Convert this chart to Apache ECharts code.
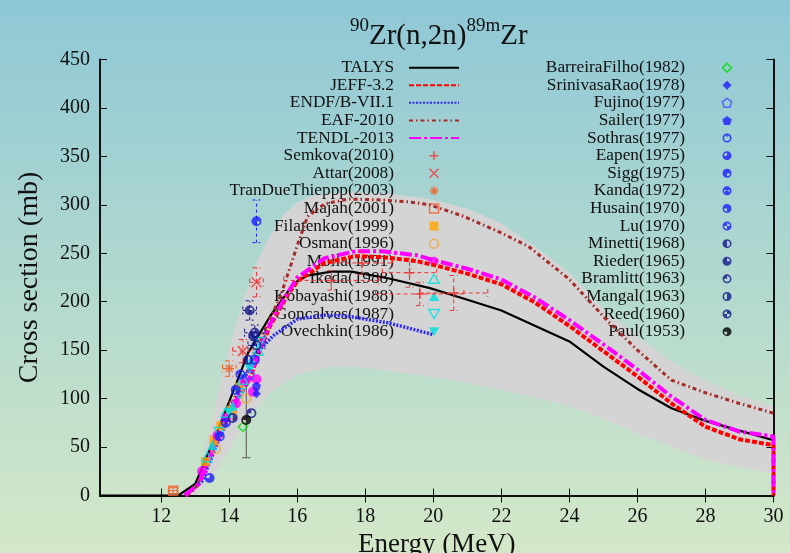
<!DOCTYPE html>
<html><head><meta charset="utf-8">
<script src="https://cdn.jsdelivr.net/npm/echarts@6/dist/echarts.min.js"></script>
<style>html,body{margin:0;padding:0;}#c{width:790px;height:553px;}</style>
</head><body><div id="c"></div><script>
const FONT = "'Liberation Serif', 'DejaVu Serif', serif";

// ---- axis ticks ----
const xTicks = [12, 14, 16, 18, 20, 22, 24, 26, 28, 30];

// ---- evaluated curves ----
const talysE = [10.2, 12.5, 13.0, 13.5, 14.1, 14.55, 15.2, 15.9, 16.3, 17.0, 17.6, 18.7, 19.9, 21.0, 22.0, 23.0, 24.0, 25.0, 26.0, 27.0, 28.0, 29.0, 30.0];
const talysV = [0, 0, 12, 53, 106, 147, 185, 219, 227, 231, 231, 224, 214, 202, 191, 175, 159, 133, 110, 90, 77, 67, 57];

const jeffE = [12.7, 13.1, 13.6, 14.1, 14.6, 14.9, 15.2, 15.7, 16.0, 16.8, 17.7, 18.5, 19.5, 20.0, 21.0, 22.0, 23.0, 24.0, 25.0, 26.0, 27.0, 28.0, 29.0, 30.0, 30.0];
const jeffV = [0, 12, 54, 92, 120, 150, 175, 206, 221, 240, 247, 246, 242, 238, 229, 218, 199, 175, 149, 123, 95, 71, 58, 52, 0];

const endfE = [12.7, 13.2, 13.6, 14.1, 14.5, 14.8, 15.3, 16.0, 16.8, 17.5, 18.7, 20.0];
const endfV = [0, 15, 50, 90, 125, 147, 165, 182, 186, 185, 178, 166];

const eafE = [12.75, 13.0, 13.5, 14.0, 14.5, 14.8, 15.0, 15.5, 16.0, 16.3, 16.8, 17.5, 18.5, 19.3, 19.9, 20.9, 22.0, 22.8, 24.0, 25.1, 26.0, 27.0, 28.0, 29.0, 30.0];
const eafV = [0, 7, 45, 90, 125, 147, 168, 205, 258, 288, 301, 306, 305, 303, 300, 288, 271, 257, 223, 181, 150, 119, 106, 95, 85];

const tendlE = [12.7, 13.1, 13.6, 14.1, 14.6, 14.9, 15.2, 15.7, 16.0, 16.8, 17.7, 18.5, 19.5, 20.0, 21.0, 22.0, 23.0, 24.0, 25.0, 26.0, 27.0, 28.0, 29.0, 30.0, 30.0];
const tendlV = [0, 12, 54, 92, 121, 152, 177, 208, 225, 245, 252, 252, 248, 243, 234, 223, 204, 181, 156, 130, 102, 78, 66, 61, 0];

// ---- uncertainty band ----
const bandUpE = [12.9, 13.2, 13.5, 13.8, 14.1, 14.5, 14.8, 15.2, 15.6, 16.0, 16.5, 17.5, 18.5, 19.5, 20.0, 21.0, 22.0, 22.8, 24.0, 25.0, 26.0, 27.0, 28.0, 29.0, 30.0];
const bandUpV = [0, 35, 80, 125, 165, 210, 240, 268, 290, 303, 310, 313, 312, 308, 305, 296, 281, 262, 230, 193, 164, 138, 119, 103, 92];
const bandLowE = [13.0, 13.5, 14.0, 14.6, 15.2, 16.0, 17.0, 18.0, 19.0, 20.0, 21.0, 22.0, 23.0, 24.0, 25.0, 26.0, 27.0, 28.0, 29.0, 30.0];
const bandLowV = [0, 20, 48, 83, 106, 125, 133, 132, 127, 122, 116, 109, 101, 92, 79, 64, 50, 37, 29, 23];

// ---- experimental data: [E, sigma, dE, dSigma] ----
const semkova = [[17.0, 222, 1.4, 10], [17.9, 240, 0.9, 12], [19.3, 230, 0.8, 15], [19.6, 208, 1.3, 12], [20.6, 209, 1.0, 18], [14.1, 92, 0.1, 5]];
const attar = [[14.4, 149, 0.3, 12], [14.8, 220, 0.2, 15]];
const tranDue = [[14.0, 131, 0.2, 8]];
const majah = [[12.35, 5, 0.12, 3]];
const filatenkov = [[13.3, 35], [13.55, 57], [13.75, 72], [14.05, 88], [14.3, 112]];
const osman = [[13.6, 48], [14.1, 83], [14.5, 100]];
const molla = [[13.2, 25], [13.65, 62], [13.9, 80], [14.2, 95], [14.45, 118], [14.7, 107], [14.8, 120]];
const ikeda = [[13.35, 40], [13.9, 86], [14.4, 120], [14.85, 150]];
const kobayashi = [[13.5, 52], [14.1, 93], [14.65, 140]];
const goncalves = [[13.7, 65], [14.3, 105], [14.9, 158]];
const ovechkin = [[14.0, 85], [14.6, 130]];
const barreira = [[14.4, 71]];
const srinivasa = [[14.8, 105]];
const fujino = [[14.6, 125]];
const sailer = [[14.8, 113]];
const sothras = [[14.75, 140]];
const eapen = [[13.42, 18]];
const sigg = [[13.72, 61], [14.8, 283, 0, 22]];
const kanda = [[13.9, 75]];
const husain = [[14.19, 109]];
const lu = [[14.33, 125]];
const minetti = [[14.55, 140]];
const rieder = [[14.6, 191, 0.2, 10], [14.7, 165]];
const bramlitt = [[14.65, 85], [14.8, 155, 0.25, 8]];
const mangal = [[14.1, 80]];
const reed = [[14.75, 168, 0.3, 8]];
const paul = [[14.5, 78, 0, 39]];

// ---- symbols ----
function ringSym(sectors) {
  const P = (r, a) => { const t = a * Math.PI / 180; return (10 + r * Math.cos(t)).toFixed(2) + ',' + (10 + r * Math.sin(t)).toFixed(2); };
  let d = 'M20,10A10,10,0,1,1,0,10A10,10,0,1,1,20,10Z M16.5,10A6.5,6.5,0,1,0,3.5,10A6.5,6.5,0,1,0,16.5,10Z';
  sectors.forEach(([a1, a2]) => {
    const large = (a2 - a1) > 180 ? 1 : 0;
    d += ' M10,10L' + P(6.5, a1) + 'A6.5,6.5,0,' + large + ',1,' + P(6.5, a2) + 'Z';
  });
  return 'path://' + d;
}
const SYM = {
  plus: 'path://M10,0L10,20M0,10L20,10',
  cross: 'path://M0,0L20,20M20,0L0,20',
  star: 'path://M10,0L10,20M0,10L20,10M3,3L17,17M17,3L3,17',
  sq: 'path://M0,0L20,0L20,20L0,20Z',
  circ: 'path://M20,10A10,10,0,1,1,0,10A10,10,0,1,1,20,10Z',
  tri: 'path://M10,0L20,17L0,17Z',
  itri: 'path://M0,0L20,0L10,17Z',
  dia: 'path://M10,0L20,10L10,20L0,10Z',
  pent: 'path://M10,0L19.5,6.9L15.9,18.1L4.1,18.1L0.5,6.9Z'
};
const BLUE = '#1c1cff', NAVY = '#14148c';
const expDefs = [
  {name: 'Semkova(2010)', d: semkova, sym: SYM.plus, c: '#ee3333', hollow: true, size: 10, dash: [4, 3]},
  {name: 'Attar(2008)', d: attar, sym: SYM.cross, c: '#ee3333', hollow: true, size: 10, dash: [4, 3]},
  {name: 'TranDueThieppp(2003)', d: tranDue, sym: SYM.star, c: '#f06020', hollow: true, size: 10, dash: [4, 3]},
  {name: 'Majah(2001)', d: majah, sym: SYM.sq, c: '#f06030', hollow: true, size: 9, dash: null},
  {name: 'Filatenkov(1999)', d: filatenkov, sym: SYM.sq, c: '#ffa500', size: 9},
  {name: 'Osman(1996)', d: osman, sym: SYM.circ, c: '#f0a030', hollow: true, size: 9},
  {name: 'Molla(1991)', d: molla, sym: SYM.circ, c: '#ff00ff', size: 10},
  {name: 'Ikeda(1988)', d: ikeda, sym: SYM.tri, c: '#00e0e0', hollow: true, size: 10},
  {name: 'Kobayashi(1988)', d: kobayashi, sym: SYM.tri, c: '#00e0e0', size: 10},
  {name: 'Goncalves(1987)', d: goncalves, sym: SYM.itri, c: '#00e0e0', hollow: true, size: 10},
  {name: 'Ovechkin(1986)', d: ovechkin, sym: SYM.itri, c: '#00e0e0', size: 10},
  {name: 'BarreiraFilho(1982)', d: barreira, sym: SYM.dia, c: '#00dd00', hollow: true, size: 9},
  {name: 'SrinivasaRao(1978)', d: srinivasa, sym: SYM.dia, c: BLUE, size: 9},
  {name: 'Fujino(1977)', d: fujino, sym: SYM.pent, c: '#4a4aff', hollow: true, size: 9},
  {name: 'Sailer(1977)', d: sailer, sym: SYM.pent, c: BLUE, size: 9},
  {name: 'Sothras(1977)', d: sothras, sym: ringSym([[255, 285]]), c: BLUE, size: 10},
  {name: 'Eapen(1975)', d: eapen, sym: ringSym([[270, 540]]), c: BLUE, size: 10},
  {name: 'Sigg(1975)', d: sigg, sym: ringSym([[90, 360]]), c: BLUE, size: 10, dash: [3, 3]},
  {name: 'Kanda(1972)', d: kanda, sym: ringSym([[200, 340], [20, 160]]), c: BLUE, size: 10},
  {name: 'Husain(1970)', d: husain, sym: ringSym([[180, 450]]), c: BLUE, size: 10},
  {name: 'Lu(1970)', d: lu, sym: ringSym([[0, 90], [180, 270]]), c: BLUE, size: 10},
  {name: 'Minetti(1968)', d: minetti, sym: ringSym([[90, 270]]), c: NAVY, size: 10},
  {name: 'Rieder(1965)', d: rieder, sym: ringSym([[0, 270]]), c: NAVY, size: 10, dash: [3, 3]},
  {name: 'Bramlitt(1963)', d: bramlitt, sym: ringSym([[180, 270]]), c: NAVY, size: 10, dash: [3, 3]},
  {name: 'Mangal(1963)', d: mangal, sym: ringSym([[-90, 90]]), c: NAVY, size: 10},
  {name: 'Reed(1960)', d: reed, sym: ringSym([[90, 180], [270, 360]]), c: NAVY, size: 10, dash: [3, 3]},
  {name: 'Paul(1953)', d: paul, sym: ringSym([[180, 450]]), c: '#000000', size: 10, dash: null, errColor: '#555'}
];

const lineDefs = [
  {name: 'TALYS', e: talysE, v: talysV, c: '#000000', w: 2.2, t: 'solid'},
  {name: 'JEFF-3.2', e: jeffE, v: jeffV, c: '#ff0000', w: 4, t: [5, 2]},
  {name: 'ENDF/B-VII.1', e: endfE, v: endfV, c: '#2a2aff', w: 3.5, t: [2, 1.5]},
  {name: 'EAF-2010', e: eafE, v: eafV, c: '#a52a2a', w: 3, t: [4, 3, 1.5, 3]},
  {name: 'TENDL-2013', e: tendlE, v: tendlV, c: '#ff00ff', w: 4, t: [12, 3, 3, 3]}
];

const series = [];
series.push({
  type: 'custom', name: 'band', z: 0, silent: true, data: [[20, 100]],
  renderItem: (p, api) => {
    const pts = [];
    bandUpE.forEach((e, i) => pts.push(api.coord([e, bandUpV[i]])));
    for (let i = bandLowE.length - 1; i >= 0; i--) pts.push(api.coord([bandLowE[i], bandLowV[i]]));
    return {type: 'polygon', shape: {points: pts}, style: {fill: '#d4d4d4'}};
  }
});
lineDefs.forEach(l => series.push({
  type: 'line', name: l.name, data: l.e.map((x, i) => [x, l.v[i]]),
  symbol: 'none', showSymbol: false, z: 3, silent: true,
  lineStyle: {color: l.c, width: l.w, type: l.t}
}));
expDefs.forEach((s, k) => {
  const hasErr = s.d.some(p => (p[2] || 0) > 0 || (p[3] || 0) > 0);
  if (hasErr) {
    const col = s.errColor || s.c;
    series.push({
      type: 'custom', name: 'err' + k, z: 4, silent: true, data: s.d.map(p => [p[0], p[1], p[2] || 0, p[3] || 0]),
      renderItem: (params, api) => {
        const x = api.value(0), y = api.value(1), dx = api.value(2) || 0, dy = api.value(3) || 0;
        const st = {stroke: col, lineWidth: 1, lineDash: s.dash || null};
        const ch = [];
        const ln = (a, b) => ch.push({type: 'line', shape: {x1: a[0], y1: a[1], x2: b[0], y2: b[1]}, style: st});
        if (dy > 0) {
          const a = api.coord([x, y - dy]), b = api.coord([x, y + dy]);
          ln(a, b); ln([a[0] - 4, a[1]], [a[0] + 4, a[1]]); ln([b[0] - 4, b[1]], [b[0] + 4, b[1]]);
        }
        if (dx > 0) {
          const a = api.coord([x - dx, y]), b = api.coord([x + dx, y]);
          ln(a, b); ln([a[0], a[1] - 4], [a[0], a[1] + 4]); ln([b[0], b[1] - 4], [b[0], b[1] + 4]);
        }
        return {type: 'group', children: ch};
      }
    });
  }
  series.push({
    type: 'scatter', name: s.name, data: s.d.map(p => [p[0], p[1]]), z: 5, silent: true,
    symbol: s.sym, symbolSize: s.size,
    itemStyle: s.hollow ? {color: 'rgba(0,0,0,0)', borderColor: s.c, borderWidth: 1.5} : {color: s.c}
  });
});

function legendItems(names) {
  return names.map(n => {
    const s = expDefs.find(e => e.name === n);
    if (!s) return {name: n, itemStyle: {opacity: 0, color: 'rgba(0,0,0,0)', borderWidth: 0}};
    if (s.hollow) return {name: n, itemStyle: {color: 'rgba(0,0,0,0)', borderColor: s.c, borderWidth: 1.5}};
    return {name: n};
  });
}
const legend1Names = lineDefs.map(l => l.name).concat(expDefs.slice(0, 11).map(e => e.name));
const legend2Names = expDefs.slice(11).map(e => e.name);
const legendBase = {
  orient: 'vertical', align: 'right', top: 59, itemWidth: 50, itemHeight: 9, itemGap: 0.3,
  padding: 0, z: 1, selectedMode: false,
  textStyle: {fontFamily: FONT, fontSize: 17.3, color: '#111', lineHeight: 17.3}
};

const axisCommon = {
  axisLine: {show: true, lineStyle: {color: '#111', width: 2}},
  axisTick: {show: true, inside: true, length: 7, lineStyle: {color: '#111', width: 1}},
  splitLine: {show: false}
};

const option = {
  animation: false,
  backgroundColor: new echarts.graphic.LinearGradient(0, 0, 0, 1, [{offset: 0, color: '#8ec8d6'}, {offset: 1, color: '#d4e8c8'}]),
  title: {
    text: '{s|90}{m|Zr(n,2n)}{s|89m}{m|Zr}', left: 345, top: 12,
    textStyle: {fontWeight: 'normal', rich: {
      s: {fontFamily: FONT, fontSize: 19, fontWeight: 'normal', color: '#111', verticalAlign: 'top', lineHeight: 34},
      m: {fontFamily: FONT, fontSize: 29, fontWeight: 'normal', color: '#111', verticalAlign: 'bottom', lineHeight: 34}
    }}
  },
  grid: {left: 100, right: 16.5, top: 59.5, bottom: 57.5, outerBoundsMode: 'none', containLabel: false},
  xAxis: [
    Object.assign({}, axisCommon, {
      type: 'value', min: 10.2, max: 30, position: 'bottom',
      name: 'Energy (MeV)', nameLocation: 'middle', nameGap: 31,
      nameTextStyle: {fontFamily: FONT, fontSize: 27, color: '#111'},
      axisTick: Object.assign({}, axisCommon.axisTick, {customValues: xTicks}),
      axisLabel: {customValues: xTicks, fontFamily: FONT, fontSize: 20, color: '#111', margin: 11}
    }),
    Object.assign({}, axisCommon, {
      type: 'value', min: 10.2, max: 30, position: 'top',
      axisTick: Object.assign({}, axisCommon.axisTick, {customValues: xTicks}),
      axisLabel: {show: false}
    })
  ],
  yAxis: [
    Object.assign({}, axisCommon, {
      type: 'value', min: 0, max: 450, interval: 50, position: 'left',
      name: 'Cross section (mb)', nameLocation: 'middle', nameGap: 56, nameRotate: 90,
      nameTextStyle: {fontFamily: FONT, fontSize: 28, color: '#111'},
      axisLabel: {fontFamily: FONT, fontSize: 20, color: '#111', margin: 10}
    }),
    Object.assign({}, axisCommon, {
      type: 'value', min: 0, max: 450, interval: 50, position: 'right',
      axisLabel: {show: false}
    })
  ],
  legend: [
    Object.assign({}, legendBase, {right: 330, data: legendItems(legend1Names),
      textStyle: Object.assign({}, legendBase.textStyle, {padding: [0, 10, 0, 0]})}),
    Object.assign({}, legendBase, {right: 57.5, data: legendItems(legend2Names),
      textStyle: Object.assign({}, legendBase.textStyle, {padding: [0, 12, 0, 0]})})
  ],
  series: series
};
const chart = echarts.init(document.getElementById('c'));
chart.setOption(option);
</script></body></html>
